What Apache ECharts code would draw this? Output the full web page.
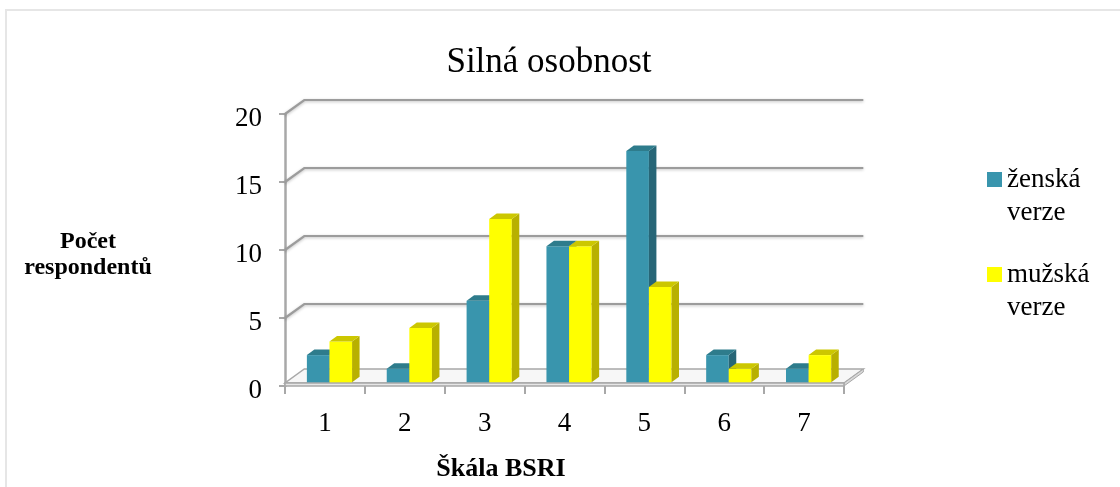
<!DOCTYPE html>
<html><head><meta charset="utf-8">
<script src="https://cdn.jsdelivr.net/npm/echarts@6/dist/echarts.min.js"></script>
<style>html,body{margin:0;padding:0;background:#fff}#c{width:1120px;height:487px}</style>
</head><body><div id="c"></div>
<script>
// ---- data ----
const categories = ['1', '2', '3', '4', '5', '6', '7'];
const zenskaVerze = [2, 1, 6, 10, 17, 2, 1];
const muzskaVerze = [3, 4, 12, 10, 7, 1, 2];
const yTickValues = [0, 5, 10, 15, 20];
const seriesNames = ['ženská verze', 'mužská verze'];
const chartTitle = 'Silná osobnost';
const xAxisName = 'Škála BSRI';
const yAxisNameLines = ['Počet', 'respondentů'];

// ---- style constants ----
const FONT = 'Liberation Serif';
const DX = 19.3, DY = -14;      // wall depth
const LIFT = 3.7;               // bars sit slightly behind front plane
const BDX = 7.5, BDY = -5.5;    // bar depth
const BAR_W = 0.283;
const GRID_COLOR = '#9c9c9c';
const AXIS_COLOR = '#a8a8a8';

function barRenderer(offFrac, front, side, top) {
  return function (params, api) {
    const idx = api.value(0), val = api.value(1);
    const c = api.coord([idx, 0]);
    const t = api.coord([idx, val]);
    const cw = api.size([1, 0])[0];
    const w = cw * BAR_W;
    const x = c[0] + offFrac * cw;
    const yb = c[1] - LIFT, yt = t[1] - LIFT;
    return {
      type: 'group', children: [
        { type: 'rect', shape: { x: x, y: yt, width: w, height: yb - yt }, style: { fill: front } },
        { type: 'polygon', shape: { points: [[x + w, yt], [x + w + BDX, yt + BDY], [x + w + BDX, yb + BDY], [x + w, yb]] }, style: { fill: side } },
        { type: 'polygon', shape: { points: [[x, yt], [x + BDX, yt + BDY], [x + w + BDX, yt + BDY], [x + w, yt]] }, style: { fill: top } }
      ]
    };
  };
}

function wallRenderer(params, api) {
  const cs = params.coordSys;
  const v = api.value(1);
  const y = api.coord([0, v])[1];
  const x0 = cs.x, x1 = cs.x + cs.width;
  const lineStyle = { stroke: GRID_COLOR, lineWidth: 2.2, fill: null, shadowBlur: 3, shadowColor: 'rgba(0,0,0,0.25)', shadowOffsetY: 1 };
  if (v > 0) {
    return {
      type: 'polyline',
      shape: { points: [[x0, y], [x0 + DX, y + DY], [x1 + DX, y + DY]] },
      style: lineStyle
    };
  }
  // floor slab
  const ft = y - 3;
  return {
    type: 'group', children: [
      { type: 'polygon', shape: { points: [[x0, ft], [x1, ft], [x1 + DX, ft + DY], [x0 + DX, ft + DY]] },
        style: { fill: '#f7f7f7', stroke: AXIS_COLOR, lineWidth: 1.5 } },
      { type: 'polygon', shape: { points: [[x1, ft], [x1 + DX, ft + DY], [x1 + DX, y + DY], [x1, y]] },
        style: { fill: '#d9d9d9', stroke: AXIS_COLOR, lineWidth: 1 } },
      { type: 'rect', shape: { x: x0, y: ft, width: x1 - x0, height: 3 },
        style: { fill: '#e6e6e6', stroke: AXIS_COLOR, lineWidth: 1.5 } }
    ]
  };
}

const chart = echarts.init(document.getElementById('c'), null, { renderer: 'canvas' });
chart.setOption({
  backgroundColor: '#fff',
  animation: false,
  graphic: [{ type: 'rect', silent: true, z: -10, shape: { x: 6, y: 10, width: 1200, height: 600 },
    style: { fill: null, stroke: '#e6e6e6', lineWidth: 2 } }],
  title: [{
    text: chartTitle, left: 544, top: 40, textAlign: 'center',
    textStyle: { fontFamily: FONT, fontSize: 35, fontWeight: 'normal', color: '#000' }
  }],
  legend: seriesNames.map((n, i) => ({
    data: [n], left: 987, top: [130, 225][i], orient: 'vertical', padding: 0,
    itemWidth: 15, itemHeight: 15, icon: 'rect', selectedMode: false,
    formatter: s => '\n' + s.replace(' ', '\n'),
    textStyle: { fontFamily: FONT, fontSize: 27, color: '#000', lineHeight: 33 }
  })),
  grid: { left: 285, right: 276, top: 114, bottom: 100.3 },
  xAxis: {
    type: 'category', data: categories, boundaryGap: true,
    name: xAxisName, nameLocation: 'middle', nameGap: 70,
    nameTextStyle: { fontFamily: FONT, fontSize: 26, fontWeight: 'bold', color: '#000', padding: [0, 127, 0, 0] },
    axisLine: { show: false },
    axisTick: { show: true, length: 8, lineStyle: { color: AXIS_COLOR, width: 2 } },
    axisLabel: { fontFamily: FONT, fontSize: 27, color: '#000', margin: 24 },
    splitLine: { show: false }
  },
  yAxis: {
    type: 'value', min: 0, max: 20, interval: 5,
    name: '{a|' + yAxisNameLines[0] + '}\n{b|' + yAxisNameLines[1] + '}',
    nameLocation: 'middle', nameRotate: 0, nameGap: 197,
    nameTextStyle: {
      fontFamily: FONT, fontSize: 24, fontWeight: 'bold', color: '#000', align: 'center', verticalAlign: 'middle',
      rich: {
        a: { fontFamily: FONT, fontSize: 24, fontWeight: 'bold', color: '#000', lineHeight: 36 },
        b: { fontFamily: FONT, fontSize: 24, fontWeight: 'bold', color: '#000', lineHeight: 16 }
      }
    },
    axisLine: { show: true, lineStyle: { color: AXIS_COLOR, width: 2.5 } },
    axisTick: { show: true, length: 6, lineStyle: { color: AXIS_COLOR, width: 2 } },
    axisLabel: {
      fontFamily: FONT, fontSize: 27, color: '#000', margin: 23,
      formatter: v => '{n|' + v + '}',
      rich: { n: { fontFamily: FONT, fontSize: 27, color: '#000', padding: [9, 0, 0, 0] } }
    },
    splitLine: { show: false }
  },
  series: [
    { type: 'custom', name: '_walls', silent: true, z: 1, renderItem: wallRenderer,
      data: yTickValues.map(v => [0, v]) },
    { type: 'custom', name: seriesNames[0], z: 2, itemStyle: { color: '#3995AD' },
      renderItem: barRenderer(-0.226, '#3995AD', '#276677', '#2E7C8C'),
      data: zenskaVerze.map((v, i) => [i, v]) },
    { type: 'custom', name: seriesNames[1], z: 3, itemStyle: { color: '#FFFF00' },
      renderItem: barRenderer(0.057, '#FFFF00', '#B8B000', '#CCC700'),
      data: muzskaVerze.map((v, i) => [i, v]) }
  ]
});
</script>
</body></html>
